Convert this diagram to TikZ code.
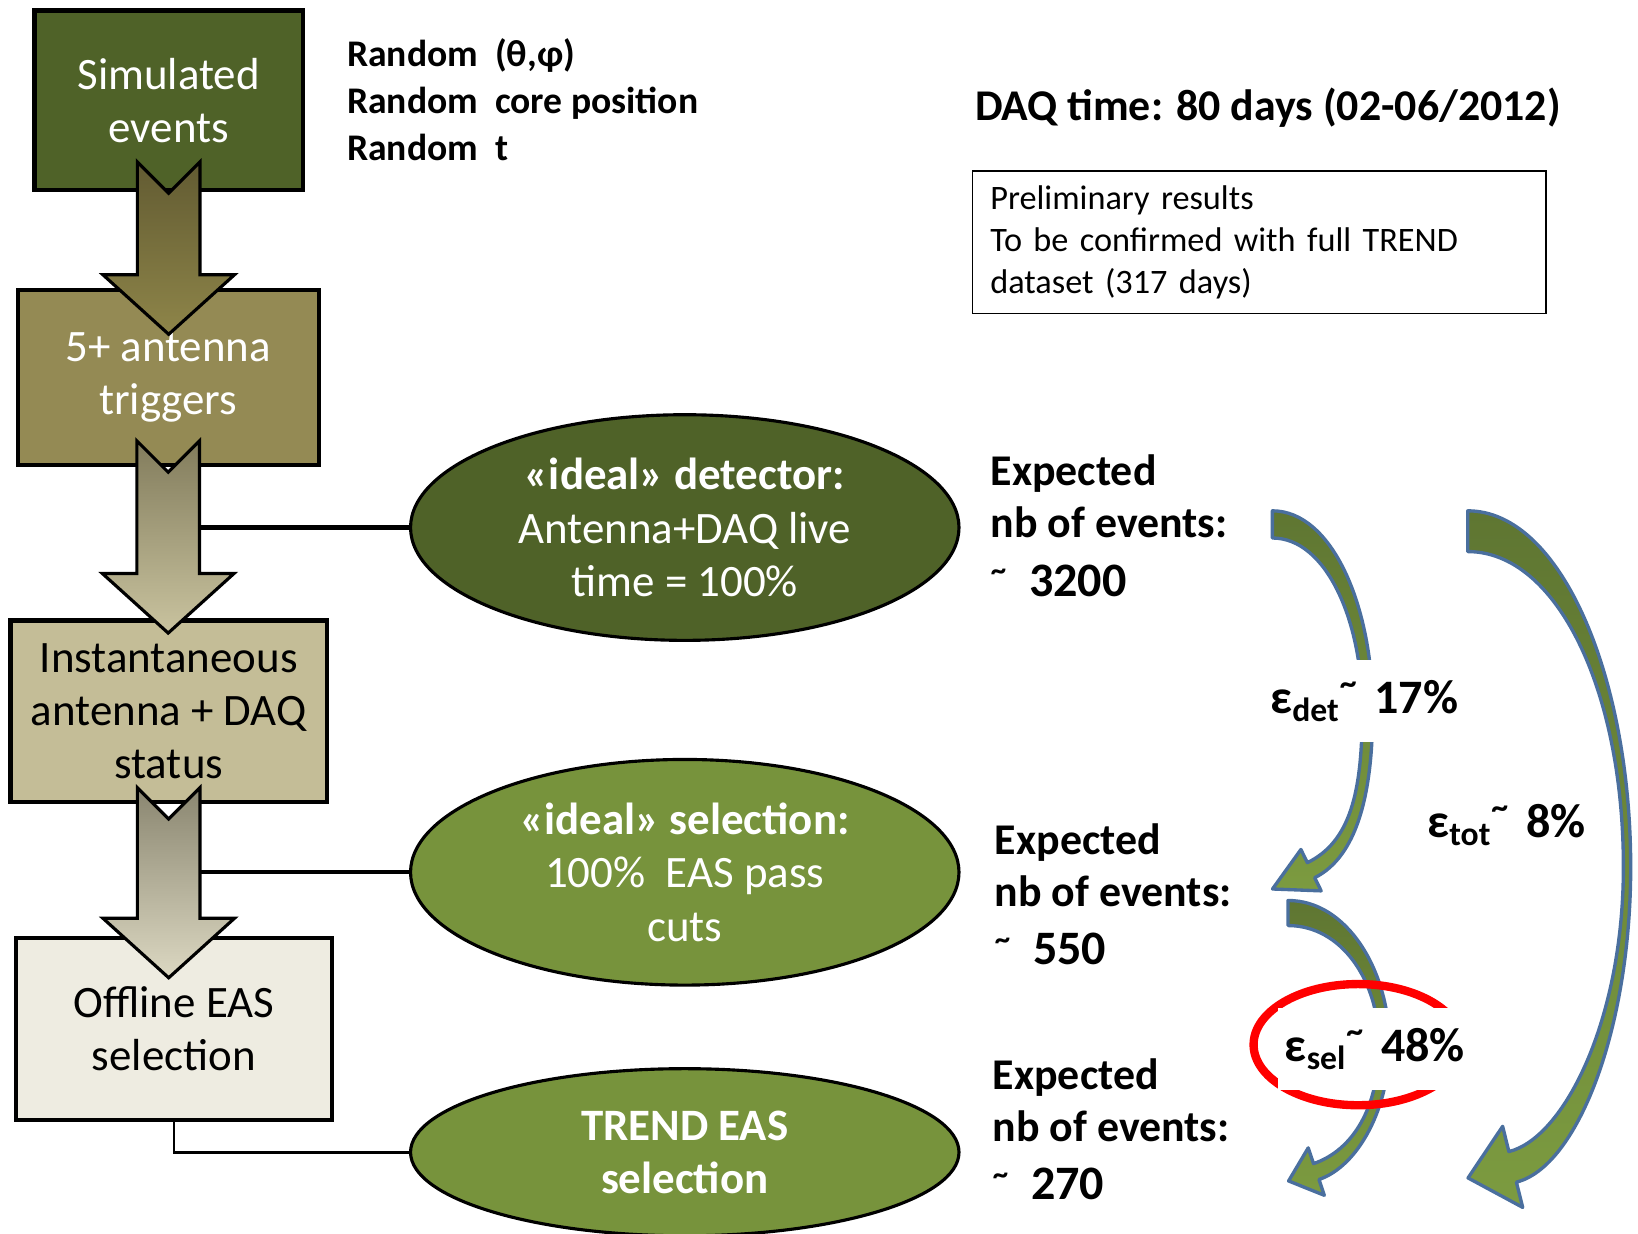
\documentclass[tikz,border=0pt]{standalone}
\usepackage{fontspec}
\setmainfont{Carlito}
\usetikzlibrary{positioning,calc,shapes.geometric}
\definecolor{simgreen}{HTML}{4F6228}
\definecolor{trigolive}{HTML}{948A54}
\definecolor{statustan}{HTML}{C4BD97}
\definecolor{offlinecream}{HTML}{EEECE1}
\definecolor{selgreen}{HTML}{77933C}
\definecolor{arrowAtop}{HTML}{625B32}
\definecolor{arrowAbot}{HTML}{8E8549}
\definecolor{arrowBtop}{HTML}{827C5C}
\definecolor{arrowBbot}{HTML}{C9C39F}
\definecolor{arrowCtop}{HTML}{8A8670}
\definecolor{arrowCbot}{HTML}{DCD8C2}
\definecolor{curvetop}{HTML}{5F7632}
\definecolor{curvebot}{HTML}{7C9B40}
\definecolor{curveline}{HTML}{4A6F9E}
\tikzset{
  basefont/.style={font=\fontsize{21.5}{25.5}\selectfont},
  stage/.style={rectangle,draw,line width=2pt,inner sep=0,align=center,basefont},
  idealcut/.style={ellipse,draw,line width=1.5pt,inner sep=0,align=center,text=white,basefont,minimum width=262.5pt},
  link/.style={line width=2pt},
  thinlink/.style={line width=1.2pt},
  blockarrow/.style={draw,line width=1.5pt,line join=miter},
  % the efficiency arrows bend round like a bracket, their head pointing back to the left
  curvearrow/.style={draw=curveline,line width=1.6pt,line join=round,top color=curvetop,bottom color=curvebot},
  note/.style={anchor=west,align=left,inner xsep=0,font=\bfseries\fontsize{21}{25}\selectfont},
  eff/.style={fill=white,inner xsep=3pt,inner ysep=0pt,minimum height=39pt,font=\bfseries\fontsize{23}{25}\selectfont},
  selring/.style={ellipse,draw=red,line width=4pt,minimum width=100pt,minimum height=58pt},
}

\begin{document}
\begin{tikzpicture}[x=0.5pt,y=-0.5pt]
  \useasboundingbox (0,0) rectangle (1568,1181);
  % Left column: the simulation chain
  \node[stage,fill=simgreen,text=white,minimum width=128.5pt,minimum height=86pt] (sim) at (161.5,96) {Simulated\\events};
  \node[stage,fill=trigolive,text=white,minimum width=144pt,minimum height=83.5pt] (trig) at (161,361.5) {5+ antenna\\triggers};
  \node[stage,fill=statustan,minimum width=151.5pt,minimum height=87pt] (status) at (161.5,681) {Instantaneous\\antenna + DAQ\\status};
  \node[stage,fill=offlinecream,minimum width=151.5pt,minimum height=87pt] (offline) at (166.5,985) {Offline EAS\\selection};
  \node[anchor=west,align=left,inner xsep=0,font=\bfseries\fontsize{18}{22.5}\selectfont] (randomtxt) at (332,95) {Random\ \ (θ,φ)\\Random\ \ core position\\Random\ \ t};

  % Middle column: what each step stands for
  \node[idealcut,fill=simgreen,minimum height=108pt] (detideal) at (655.5,505) {\textbf{«ideal» detector:}\\Antenna+DAQ live\\time = 100\%};
  \node[idealcut,fill=selgreen,minimum height=108pt] (selideal) at (655.5,835) {\textbf{«ideal» selection:}\\100\%\ \ EAS pass\\cuts};
  \node[idealcut,fill=selgreen,minimum height=80pt,font=\bfseries\fontsize{21.5}{25.5}\selectfont] (trend) at (655.5,1103) {TREND EAS\\selection};
  \coordinate (shaftB) at ($(trig.south)+(30,0)$);
  \coordinate (shaftC) at ($(status.south)+(30,0)$);
  \draw[link] (detideal.west) -- (detideal.west -| shaftB);
  \draw[link] (selideal.west) -- (selideal.west -| shaftC);
  \draw[thinlink] (offline.south) |- (trend.west);

  \foreach \from/\to/\up/\down/\ctop/\cbot in {sim/trig/29/44/arrowAtop/arrowAbot,
      trig/status/25/14/arrowBtop/arrowBbot, status/offline/16/40/arrowCtop/arrowCbot} {
    \path[blockarrow,top color=\ctop,bottom color=\cbot]
      ($(\from.south)+(-30,-\up)$) -- ($(\from.south)+(0,30-\up)$) -- ($(\from.south)+(30,-\up)$)
      -- ($(\from.south |- \to.north)+(30,\down-57)$) -- ($(\from.south |- \to.north)+(63,\down-57)$)
      -- ($(\from.south |- \to.north)+(0,\down)$)
      -- ($(\from.south |- \to.north)+(-63,\down-57)$) -- ($(\from.south |- \to.north)+(-30,\down-57)$) -- cycle;
  }

  % Right column: numbers of events and efficiencies
  \node[note] (daq) at (933,103) {DAQ time: 80 days (02-06/2012)};
  \node[draw,line width=0.8pt,minimum width=274.5pt,minimum height=68pt,text width=257.5pt,inner xsep=8.5pt,align=left,
        font=\fontsize{16.4}{20}\selectfont] (prelim) at (1205.5,232) {Preliminary results\\To be confirmed with full TREND\\dataset (317 days)};
  \node[note] (expdet) at (948,503) {Expected\\nb of events:\\[3pt]\textsuperscript{\textasciitilde}\hspace{0.5em}{\fontsize{23}{25}\selectfont 3200}};
  \node[note] (expsel) at (952,856) {Expected\\nb of events:\\[3pt]\textsuperscript{\textasciitilde}\hspace{0.5em}{\fontsize{23}{25}\selectfont 550}};
  \node[note] (exptrend) at (950,1081) {Expected\\nb of events:\\[3pt]\textsuperscript{\textasciitilde}\hspace{0.5em}{\fontsize{23}{25}\selectfont 270}};

  \path[curvearrow] (1218,489) .. controls (1275,489) and (1314,580) .. (1314,680)
    .. controls (1314,760) and (1299,820) .. (1258.5,840.2) -- (1264.7,852.8) -- (1218.1,851) -- (1245.3,813.2)
    -- (1251.5,825.8) .. controls (1292,806) and (1304,760) .. (1304,680)
    .. controls (1304,595) and (1270,515) .. (1218,515) -- cycle;
  \path[curvearrow] (1233,862) .. controls (1290,862) and (1330,930) .. (1330,1000)
    .. controls (1330,1060) and (1300.5,1116.2) .. (1262.6,1129.1) -- (1267.7,1144.2) -- (1233.5,1130.5) -- (1252.3,1098.8)
    -- (1257.4,1113.9) .. controls (1295.3,1101) and (1320,1060) .. (1320,1000)
    .. controls (1320,940) and (1285,886) .. (1233,886) -- cycle;
  \path[curvearrow] (1405,489) .. controls (1495,489) and (1561,650) .. (1561,830)
    .. controls (1561,985) and (1510,1117) .. (1451.6,1131.6) -- (1457.6,1155.8) -- (1405.3,1127.6) -- (1438.4,1078.2)
    -- (1444.4,1102.4) .. controls (1498,1089) and (1554,975) .. (1554,830)
    .. controls (1554,660) and (1490,528) .. (1405,528) -- cycle;

  \node[selring] (selhl) at (1300,1000) {};
  \node[eff] (effdet) at (1306,671) {ε\textsubscript{det}\textsuperscript{\textasciitilde}\hspace{0.35em}17\%};
  \node[eff] (efftot) at (1442,790) {ε\textsubscript{tot}\textsuperscript{\textasciitilde}\hspace{0.35em}8\%};
  \node[eff] (effsel) at (1316,1004) {ε\textsubscript{sel}\textsuperscript{\textasciitilde}\hspace{0.35em}48\%};
\end{tikzpicture}
\end{document}
